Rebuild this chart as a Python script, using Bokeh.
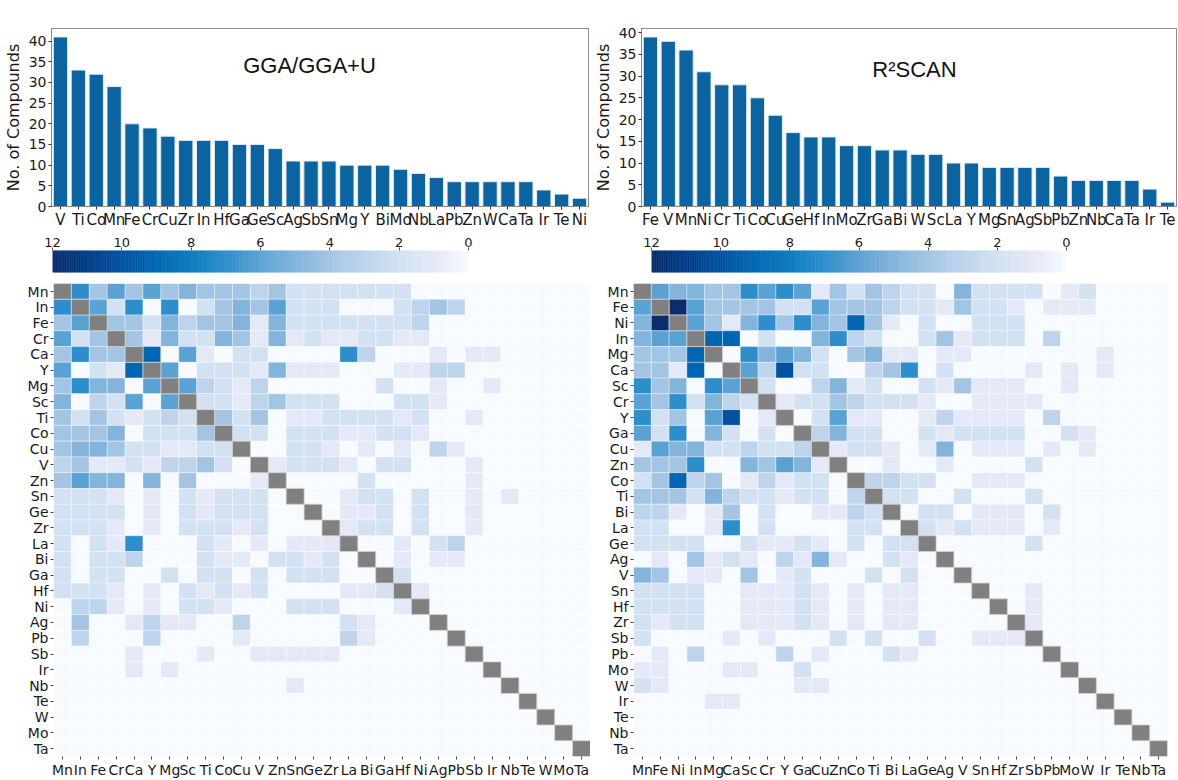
import numpy as np
from bokeh.plotting import figure
from bokeh.models import FactorRange, Range1d, Label, FixedTicker, LinearColorMapper, ColumnDataSource
from bokeh.layouts import column, row
from bokeh.embed import file_html
from bokeh.resources import INLINE

# ---------------- data ----------------
gga_elements = ["V", "Ti", "Co", "Mn", "Fe", "Cr", "Cu", "Zr", "In", "Hf", "Ga", "Ge", "Sc", "Ag", "Sb",
                "Sn", "Mg", "Y", "Bi", "Mo", "Nb", "La", "Pb", "Zn", "W", "Ca", "Ta", "Ir", "Te", "Ni"]
gga_counts = [41, 33, 32, 29, 20, 19, 17, 16, 16, 16, 15, 15, 14, 11, 11,
              11, 10, 10, 10, 9, 8, 7, 6, 6, 6, 6, 6, 4, 3, 2]

r2_elements = ["Fe", "V", "Mn", "Ni", "Cr", "Ti", "Co", "Cu", "Ge", "Hf", "In", "Mo", "Zr", "Ga", "Bi",
               "W", "Sc", "La", "Y", "Mg", "Sn", "Ag", "Sb", "Pb", "Zn", "Nb", "Ca", "Ta", "Ir", "Te"]
r2_counts = [39, 38, 36, 31, 28, 28, 25, 21, 17, 16, 16, 14, 14, 13, 13,
             12, 12, 10, 10, 9, 9, 9, 9, 7, 6, 6, 6, 6, 4, 1]

gga_order = ["Mn", "In", "Fe", "Cr", "Ca", "Y", "Mg", "Sc", "Ti", "Co", "Cu", "V", "Zn", "Sn", "Ge",
             "Zr", "La", "Bi", "Ga", "Hf", "Ni", "Ag", "Pb", "Sb", "Ir", "Nb", "Te", "W", "Mo", "Ta"]
# lower triangle of the symmetric co-occurrence matrix (row i lists columns 0..i-1)
gga_lower = [
    [],
    [7],
    [4, 6],
    [6, 2, 4],
    [4, 7, 4, 4],
    [6, 0, 2, 1, 9],
    [4, 7, 5, 5, 0, 6],
    [5, 0, 3, 2, 6, 0, 6],
    [4, 2, 4, 2, 1, 2, 3, 2],
    [4, 4, 4, 5, 0, 2, 2, 2, 4],
    [4, 5, 5, 4, 2, 2, 1, 1, 2, 2],
    [3, 4, 1, 1, 2, 1, 3, 3, 4, 2, 0],
    [4, 6, 5, 5, 0, 5, 0, 4, 0, 0, 0, 1],
    [2, 2, 2, 1, 0, 1, 0, 2, 1, 2, 2, 2, 0],
    [2, 2, 2, 2, 0, 1, 0, 2, 1, 2, 2, 2, 0, 0],
    [2, 2, 2, 1, 0, 1, 0, 2, 2, 2, 1, 2, 0, 0, 0],
    [2, 0, 2, 1, 7, 0, 0, 0, 2, 1, 0, 1, 0, 1, 1, 1],
    [2, 0, 2, 2, 3, 0, 0, 0, 2, 1, 1, 0, 2, 2, 1, 2, 0],
    [2, 0, 2, 2, 0, 0, 2, 0, 2, 2, 0, 2, 0, 2, 2, 2, 0, 0],
    [2, 2, 2, 1, 0, 1, 0, 2, 1, 2, 1, 2, 0, 0, 0, 0, 1, 1, 2],
    [0, 3, 3, 1, 0, 1, 0, 2, 2, 1, 0, 0, 0, 2, 2, 2, 0, 0, 0, 1],
    [0, 4, 0, 0, 1, 3, 1, 1, 0, 0, 3, 0, 0, 0, 0, 0, 2, 1, 0, 0, 0],
    [0, 3, 0, 0, 0, 3, 0, 0, 0, 0, 1, 0, 0, 0, 0, 0, 3, 1, 0, 0, 0, 0],
    [0, 0, 0, 0, 1, 0, 0, 0, 1, 0, 0, 1, 1, 1, 1, 1, 0, 0, 0, 0, 0, 0, 0],
    [0, 0, 0, 0, 1, 0, 1, 0, 0, 0, 0, 0, 0, 0, 0, 0, 0, 0, 0, 0, 0, 0, 0, 0],
    [0, 0, 0, 0, 0, 0, 0, 0, 0, 0, 0, 0, 0, 1, 0, 0, 0, 0, 0, 0, 0, 0, 0, 0, 0],
    [0] * 26,
    [0] * 27,
    [0] * 28,
    [0] * 29,
]

r2_order = ["Mn", "Fe", "Ni", "In", "Mg", "Ca", "Sc", "Cr", "Y", "Ga", "Cu", "Zn", "Co", "Ti", "Bi",
            "La", "Ge", "Ag", "V", "Sn", "Hf", "Zr", "Sb", "Pb", "Mo", "W", "Ir", "Te", "Nb", "Ta"]
r2_lower = [
    [],
    [6],
    [5, 12],
    [5, 6, 6],
    [4, 4, 4, 9],
    [4, 4, 1, 9, 0],
    [7, 4, 5, 0, 7, 6],
    [6, 4, 7, 2, 5, 3, 2],
    [7, 2, 4, 0, 6, 10, 0, 1],
    [6, 2, 7, 0, 5, 2, 0, 2, 0],
    [1, 6, 5, 5, 2, 2, 3, 2, 2, 3],
    [4, 4, 4, 7, 0, 0, 5, 4, 6, 5, 1],
    [2, 4, 9, 3, 4, 0, 1, 3, 1, 2, 2, 0],
    [4, 4, 4, 2, 5, 3, 2, 2, 1, 2, 2, 0, 3],
    [3, 3, 1, 0, 1, 4, 0, 2, 0, 0, 1, 1, 3, 2],
    [2, 2, 0, 0, 1, 7, 0, 2, 0, 0, 0, 0, 2, 2, 0],
    [2, 2, 2, 2, 0, 0, 2, 1, 1, 2, 1, 0, 2, 0, 2, 2],
    [0, 1, 0, 4, 1, 2, 1, 0, 3, 1, 5, 1, 0, 0, 2, 1, 0],
    [5, 4, 0, 1, 1, 0, 4, 0, 1, 2, 0, 0, 0, 2, 0, 2, 0, 0],
    [2, 2, 2, 2, 0, 0, 1, 1, 1, 2, 1, 0, 1, 0, 1, 1, 0, 0, 0],
    [2, 2, 2, 2, 0, 0, 1, 1, 1, 2, 1, 0, 1, 0, 1, 1, 0, 0, 0, 0],
    [2, 1, 2, 2, 0, 0, 1, 1, 1, 2, 1, 0, 1, 0, 1, 1, 0, 0, 0, 0, 0],
    [2, 0, 0, 0, 0, 1, 0, 1, 0, 0, 0, 2, 0, 2, 0, 0, 2, 0, 0, 1, 1, 1],
    [0, 1, 0, 3, 0, 0, 0, 0, 3, 0, 1, 0, 0, 0, 2, 1, 0, 0, 0, 0, 0, 0, 0],
    [1, 1, 0, 0, 0, 1, 1, 0, 0, 2, 0, 0, 0, 0, 0, 0, 0, 0, 0, 0, 0, 0, 0, 0],
    [2, 1, 0, 0, 0, 0, 0, 0, 0, 1, 1, 0, 0, 0, 0, 0, 0, 0, 0, 0, 0, 0, 0, 0, 0],
    [0, 0, 0, 0, 1, 1, 0, 0, 0, 0, 0, 0, 0, 0, 0, 0, 0, 0, 0, 0, 0, 0, 0, 0, 0, 0],
    [0] * 27,
    [0] * 28,
    [0] * 29,
]

colorbar_ticks = [12, 10, 8, 6, 4, 2, 0]
count_ticks = [0, 5, 10, 15, 20, 25, 30, 35, 40]

# ---------------- styles ----------------
BAR_COLOR = "#0b639f"
TICK_FONT = "DejaVu Sans"
TITLE_FONT = "Liberation Sans"
TEXT_COLOR = "#1a1a1a"
anchor_values = list(range(13))
anchor_colors = ["#f7fbff", "#e5e9f7", "#d2e2f3", "#bed4ec", "#a3c5e3", "#82b4dc", "#5ca2d4",
                 "#2e8ecb", "#0a7bc0", "#0067b2", "#0052a2", "#003d88", "#0a2d6c"]


def _rgb(h):
    return [int(h[i:i + 2], 16) for i in (1, 3, 5)]


_A = np.array([_rgb(c) for c in anchor_colors], dtype=float)


def cmap(v):
    v = float(np.clip(v, 0, 12))
    rgb = [np.interp(v, anchor_values, _A[:, k]) for k in range(3)]
    return "#%02x%02x%02x" % tuple(int(round(c)) for c in rgb)


palette = [cmap(t) for t in np.linspace(0, 12, 256)]
mapper = LinearColorMapper(palette=palette, low=0, high=12)


def style_axis(ax, size):
    ax.axis_line_color = "#8a8a8a"
    ax.major_tick_line_color = "#333333"
    ax.major_tick_out = 3
    ax.major_tick_in = 0
    ax.minor_tick_line_color = None
    ax.major_label_text_font = TICK_FONT
    ax.major_label_text_font_size = size
    ax.major_label_text_color = TEXT_COLOR


def bar_fig(cats, counts, ymax, width, bl, br, bb, title, tx, ty, panel, px, py):
    p = figure(x_range=FactorRange(factors=cats), y_range=Range1d(0, ymax),
               width=width, height=231, min_border_left=bl, min_border_right=br,
               min_border_top=28, min_border_bottom=bb,
               output_backend="svg", toolbar_location=None)
    p.vbar(x=cats, top=counts, width=0.8, fill_color=BAR_COLOR, line_color="#e4ecf3", line_width=1)
    p.xgrid.visible = False
    p.ygrid.visible = False
    p.outline_line_color = "#8a8a8a"
    style_axis(p.xaxis[0], "15px")
    style_axis(p.yaxis[0], "14px")
    p.xaxis.major_label_standoff = 1
    p.yaxis.major_label_standoff = 2
    p.yaxis.ticker = FixedTicker(ticks=count_ticks)
    p.yaxis.axis_label = "No. of Compounds"
    p.yaxis.axis_label_text_font = TICK_FONT
    p.yaxis.axis_label_text_font_size = "16px"
    p.yaxis.axis_label_text_font_style = "normal"
    p.yaxis.axis_label_text_color = TEXT_COLOR
    p.yaxis.axis_label_standoff = 3
    p.add_layout(Label(x=tx, y=ty, x_units="screen", y_units="screen", text=title,
                       text_font=TITLE_FONT, text_font_size="22px", text_color="#111111",
                       text_align="center", text_baseline="middle"))
    p.add_layout(Label(x=px, y=py, x_units="screen", y_units="screen", text=panel,
                       text_font=TITLE_FONT, text_font_size="20px", text_color="#111111",
                       text_align="center", text_baseline="middle"))
    return p


def cbar_fig(width, bl, br, panel, px, py):
    p = figure(x_range=Range1d(12, 0), y_range=Range1d(0, 1), width=width, height=52,
               min_border_left=bl, min_border_right=br, min_border_top=19, min_border_bottom=11,
               x_axis_location="above", output_backend="svg", toolbar_location=None)
    edges = np.linspace(0, 12, 241)
    cols = [cmap(0.5 * (a + b)) for a, b in zip(edges[:-1], edges[1:])]
    p.quad(left=edges[:-1], right=edges[1:], bottom=0, top=1, fill_color=cols, line_color=cols,
           line_width=0.6)
    p.yaxis.visible = False
    p.xgrid.visible = False
    p.ygrid.visible = False
    p.outline_line_color = None
    ax = p.xaxis[0]
    style_axis(ax, "13px")
    ax.axis_line_color = None
    ax.major_tick_line_color = "#555555"
    ax.major_label_standoff = 1
    ax.ticker = FixedTicker(ticks=colorbar_ticks)
    p.add_layout(Label(x=px, y=py, x_units="screen", y_units="screen", text=panel,
                       text_font=TITLE_FONT, text_font_size="20px", text_color="#111111",
                       text_align="center", text_baseline="middle"))
    return p


def heat_fig(order, lower, width, bl, br):
    n = len(order)
    M = np.zeros((n, n))
    for i, r in enumerate(lower):
        for j, v in enumerate(r):
            M[i, j] = v
            M[j, i] = v
    xs, ys, vs = [], [], []
    for i in range(n):
        for j in range(n):
            if i != j:
                xs.append(order[j])
                ys.append(order[i])
                vs.append(M[i, j])
    src = ColumnDataSource(dict(x=xs, y=ys, v=vs))
    p = figure(x_range=FactorRange(factors=order), y_range=FactorRange(factors=order[::-1]),
               width=width, height=497, min_border_left=bl, min_border_right=br,
               min_border_top=0, min_border_bottom=23,
               output_backend="svg", toolbar_location=None)
    p.rect(x="x", y="y", width=1, height=1, source=src,
           fill_color={"field": "v", "transform": mapper},
           line_color="white", line_width=0.6, line_alpha=0.6)
    p.rect(x=order, y=order, width=1, height=1, fill_color="#808080",
           line_color="#d0d0d0", line_width=0.8)
    p.xgrid.visible = False
    p.ygrid.visible = False
    p.outline_line_color = None
    for ax in (p.xaxis[0], p.yaxis[0]):
        style_axis(ax, "14px")
        ax.axis_line_color = None
        ax.major_tick_line_color = "#444444"
        ax.major_label_standoff = 2
    return p


fa = bar_fig(gga_elements, gga_counts, 43.05, 590, 50, 2, 22,
             "GGA/GGA+U", 258, 141, "(a)", -35, 194)
fc = bar_fig(r2_elements, r2_counts, 40.95, 588, 51, 2, 24,
             "R\u00b2SCAN", 273, 137, "(c)", -36, 192)
cb = cbar_fig(590, 52, 122, "(b)", -28, 10)
cd = cbar_fig(588, 61, 112, "(d)", -38, 13)
hb = heat_fig(gga_order, gga_lower, 590, 53, 0)
hd = heat_fig(r2_order, r2_lower, 588, 43, 11)

layout = column(row(fa, fc), row(cb, cd), row(hb, hd))
open("out.html", "w").write(file_html(layout, INLINE))
